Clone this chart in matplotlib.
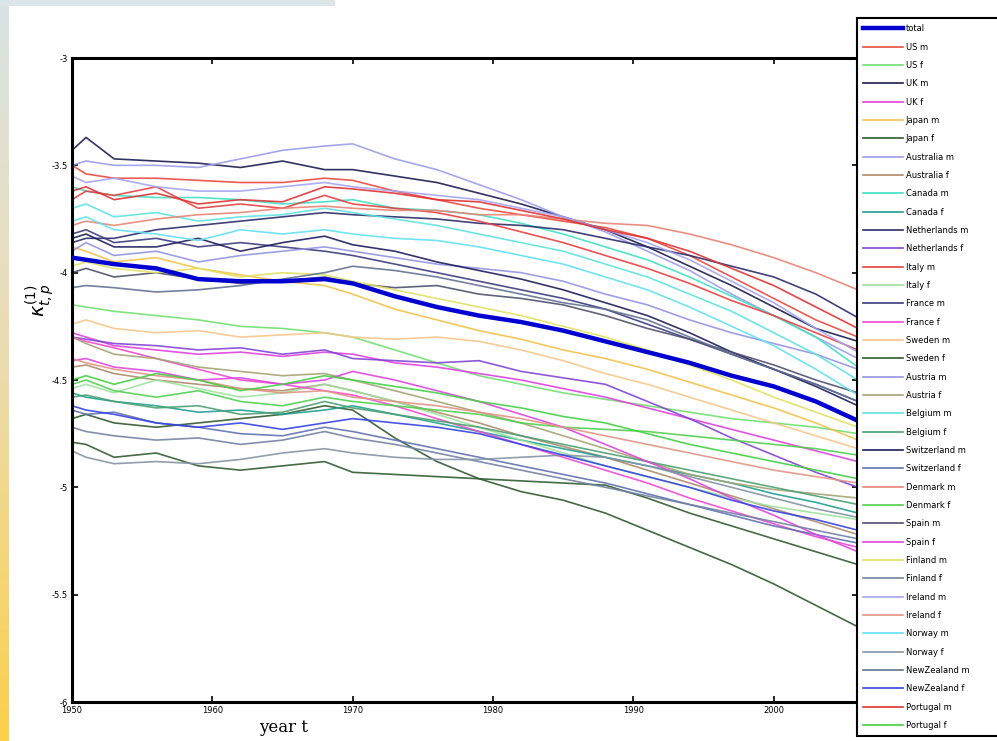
import matplotlib
matplotlib.use("Agg")
import matplotlib.pyplot as plt
import numpy as np
from matplotlib.lines import Line2D
from matplotlib.colors import LinearSegmentedColormap

YEARS = [1950, 1951, 1953, 1956, 1959, 1962, 1965, 1968, 1970, 1973, 1976,
         1979, 1982, 1985, 1988, 1991, 1994, 1997, 2000, 2003, 2006]

total = [-3.93, -3.94, -3.96, -3.98, -4.03, -4.04, -4.04, -4.03, -4.05, -4.11, -4.16,
         -4.20, -4.23, -4.27, -4.32, -4.37, -4.42, -4.48, -4.53, -4.60, -4.69]
us_m = [-3.50, -3.54, -3.56, -3.56, -3.57, -3.58, -3.58, -3.56, -3.57, -3.62, -3.66,
        -3.70, -3.73, -3.76, -3.79, -3.84, -3.92, -4.02, -4.12, -4.22, -4.30]
us_f = [-4.15, -4.16, -4.18, -4.20, -4.22, -4.25, -4.26, -4.28, -4.30, -4.36, -4.42,
        -4.48, -4.52, -4.56, -4.59, -4.62, -4.65, -4.68, -4.70, -4.72, -4.75]
uk_m = [-3.43, -3.37, -3.47, -3.48, -3.49, -3.51, -3.48, -3.52, -3.52, -3.55, -3.58,
        -3.63, -3.68, -3.74, -3.80, -3.88, -3.97, -4.06, -4.16, -4.26, -4.32]
uk_f = [-4.28, -4.30, -4.34, -4.36, -4.38, -4.37, -4.39, -4.37, -4.38, -4.42, -4.44,
        -4.47, -4.50, -4.54, -4.58, -4.63, -4.68, -4.73, -4.78, -4.83, -4.88]
japan_m = [-3.88, -3.90, -3.95, -3.93, -3.98, -4.01, -4.04, -4.06, -4.10, -4.17, -4.22,
           -4.27, -4.31, -4.36, -4.40, -4.45, -4.51, -4.57, -4.63, -4.70, -4.78]
japan_f = [-4.68, -4.66, -4.70, -4.72, -4.70, -4.68, -4.66, -4.62, -4.64, -4.77, -4.88,
           -4.96, -5.02, -5.06, -5.12, -5.20, -5.28, -5.36, -5.45, -5.55, -5.65]
australia_m = [-3.50, -3.48, -3.50, -3.50, -3.51, -3.47, -3.43, -3.41, -3.40, -3.47, -3.52,
               -3.59, -3.66, -3.74, -3.81, -3.90, -3.99, -4.10, -4.20, -4.30, -4.40]
australia_f = [-4.44, -4.43, -4.47, -4.50, -4.52, -4.54, -4.55, -4.52, -4.55, -4.60, -4.65,
               -4.70, -4.76, -4.81, -4.86, -4.92, -4.98, -5.04, -5.10, -5.16, -5.22]
canada_m = [-3.60, -3.62, -3.64, -3.65, -3.65, -3.66, -3.68, -3.67, -3.66, -3.70, -3.71,
            -3.73, -3.77, -3.82, -3.88, -3.94, -4.02, -4.11, -4.20, -4.30, -4.44]
canada_f = [-4.56, -4.58, -4.60, -4.62, -4.65, -4.64, -4.66, -4.64, -4.62, -4.66, -4.70,
            -4.74, -4.78, -4.82, -4.86, -4.90, -4.94, -4.98, -5.03, -5.07, -5.12]
netherlands_m = [-3.86, -3.84, -3.84, -3.80, -3.78, -3.76, -3.74, -3.72, -3.73, -3.74, -3.75,
                 -3.77, -3.78, -3.80, -3.84, -3.88, -3.92, -3.97, -4.02, -4.10, -4.21]
netherlands_f = [-4.30, -4.31, -4.33, -4.34, -4.36, -4.35, -4.38, -4.36, -4.40, -4.41, -4.42,
                 -4.41, -4.46, -4.49, -4.52, -4.60, -4.68, -4.77, -4.85, -4.93, -5.00]
italy_m = [-3.66, -3.62, -3.64, -3.60, -3.70, -3.68, -3.70, -3.64, -3.68, -3.70, -3.72,
           -3.76, -3.81, -3.86, -3.92, -3.98, -4.05, -4.13, -4.20, -4.28, -4.36]
italy_f = [-4.54, -4.52, -4.56, -4.50, -4.54, -4.58, -4.56, -4.52, -4.55, -4.60, -4.66,
           -4.72, -4.78, -4.84, -4.90, -4.95, -5.00, -5.05, -5.09, -5.12, -5.15]
france_m = [-3.82, -3.80, -3.86, -3.84, -3.88, -3.86, -3.88, -3.90, -3.92, -3.96, -4.00,
            -4.04, -4.08, -4.12, -4.17, -4.24, -4.31, -4.38, -4.45, -4.52, -4.60]
france_f = [-4.30, -4.32, -4.35, -4.40, -4.45, -4.50, -4.52, -4.55, -4.57, -4.62, -4.68,
            -4.74, -4.80, -4.86, -4.92, -4.98, -5.05, -5.11, -5.17, -5.23, -5.28]
sweden_m = [-4.24, -4.22, -4.26, -4.28, -4.27, -4.30, -4.29, -4.28, -4.30, -4.31, -4.30,
            -4.32, -4.36, -4.41, -4.47, -4.52, -4.58, -4.64, -4.70, -4.76, -4.82]
sweden_f = [-4.79, -4.80, -4.86, -4.84, -4.90, -4.92, -4.90, -4.88, -4.93, -4.94, -4.95,
            -4.96, -4.97, -4.98, -4.99, -5.05, -5.12, -5.18, -5.24, -5.30, -5.36]
austria_m = [-3.90, -3.86, -3.92, -3.90, -3.95, -3.92, -3.90, -3.88, -3.90, -3.93, -3.96,
             -3.98, -4.00, -4.04, -4.10, -4.15, -4.22, -4.28, -4.33, -4.38, -4.45]
austria_f = [-4.30, -4.33, -4.38, -4.40, -4.44, -4.46, -4.48, -4.47, -4.50, -4.55, -4.60,
             -4.65, -4.70, -4.76, -4.82, -4.88, -4.94, -4.98, -5.01, -5.03, -5.05]
belgium_m = [-3.70, -3.68, -3.74, -3.72, -3.76, -3.74, -3.73, -3.70, -3.72, -3.75, -3.78,
             -3.82, -3.86, -3.90, -3.96, -4.02, -4.10, -4.18, -4.28, -4.38, -4.50]
belgium_f = [-4.58, -4.57, -4.60, -4.63, -4.62, -4.66, -4.65, -4.60, -4.63, -4.66, -4.69,
             -4.72, -4.76, -4.80, -4.84, -4.88, -4.92, -4.96, -5.00, -5.04, -5.08]
switzerland_m = [-3.84, -3.82, -3.88, -3.88, -3.84, -3.90, -3.86, -3.83, -3.87, -3.90, -3.95,
                 -3.99, -4.03, -4.08, -4.14, -4.20, -4.28, -4.37, -4.45, -4.53, -4.62]
switzerland_f = [-4.64, -4.66, -4.65, -4.70, -4.72, -4.75, -4.76, -4.72, -4.74, -4.78, -4.82,
                 -4.86, -4.90, -4.94, -4.98, -5.03, -5.08, -5.13, -5.18, -5.22, -5.26]
denmark_m = [-3.78, -3.76, -3.78, -3.75, -3.73, -3.72, -3.70, -3.69, -3.70, -3.71, -3.71,
             -3.73, -3.73, -3.75, -3.77, -3.78, -3.82, -3.87, -3.93, -4.00, -4.08]
denmark_f = [-4.52, -4.50, -4.55, -4.58, -4.55, -4.60, -4.62, -4.58, -4.60, -4.62, -4.64,
             -4.66, -4.70, -4.72, -4.73, -4.74, -4.76, -4.78, -4.80, -4.82, -4.85]
spain_m = [-4.00, -3.98, -4.02, -4.00, -4.03, -4.05, -4.04, -4.02, -4.05, -4.07, -4.06,
           -4.10, -4.12, -4.15, -4.20, -4.26, -4.31, -4.37, -4.43, -4.50, -4.56]
spain_f = [-4.41, -4.40, -4.44, -4.46, -4.50, -4.49, -4.52, -4.50, -4.46, -4.50, -4.55,
           -4.60, -4.66, -4.72, -4.80, -4.88, -4.96, -5.05, -5.13, -5.22, -5.30]
finland_m = [-3.97, -3.95, -3.98, -4.00, -3.98, -4.02, -4.00, -4.01, -4.04, -4.08, -4.12,
             -4.16, -4.20, -4.25, -4.30, -4.36, -4.43, -4.50, -4.58, -4.65, -4.72]
finland_f = [-4.72, -4.74, -4.76, -4.78, -4.77, -4.80, -4.78, -4.74, -4.77, -4.80, -4.84,
             -4.88, -4.92, -4.96, -5.00, -5.04, -5.08, -5.12, -5.16, -5.20, -5.24]
ireland_m = [-3.55, -3.58, -3.56, -3.60, -3.62, -3.62, -3.60, -3.58, -3.60, -3.62, -3.64,
             -3.66, -3.70, -3.74, -3.80, -3.86, -3.94, -4.04, -4.14, -4.26, -4.37]
ireland_f = [-4.40, -4.42, -4.45, -4.48, -4.50, -4.54, -4.56, -4.55, -4.58, -4.60, -4.62,
             -4.65, -4.68, -4.72, -4.76, -4.80, -4.84, -4.88, -4.92, -4.95, -4.98]
norway_m = [-3.76, -3.74, -3.80, -3.82, -3.85, -3.80, -3.82, -3.80, -3.82, -3.84, -3.85,
            -3.88, -3.92, -3.96, -4.02, -4.08, -4.16, -4.25, -4.34, -4.45, -4.57]
norway_f = [-4.83, -4.86, -4.89, -4.88, -4.89, -4.87, -4.84, -4.82, -4.84, -4.86, -4.87,
            -4.87, -4.86, -4.85, -4.86, -4.90, -4.95, -5.00, -5.05, -5.10, -5.14]
newzealand_m = [-4.07, -4.06, -4.07, -4.09, -4.08, -4.06, -4.03, -4.00, -3.97, -3.99, -4.02,
                -4.06, -4.10, -4.14, -4.17, -4.22, -4.30, -4.38, -4.45, -4.52, -4.60]
newzealand_f = [-4.62, -4.64, -4.66, -4.70, -4.72, -4.70, -4.73, -4.70, -4.68, -4.70, -4.72,
                -4.75, -4.80, -4.85, -4.90, -4.95, -5.00, -5.06, -5.11, -5.15, -5.20]
portugal_m = [-3.62, -3.60, -3.66, -3.63, -3.68, -3.66, -3.67, -3.60, -3.61, -3.63, -3.66,
              -3.67, -3.71, -3.75, -3.80, -3.84, -3.90, -3.98, -4.06, -4.16, -4.26]
portugal_f = [-4.50, -4.48, -4.52, -4.47, -4.50, -4.55, -4.52, -4.48, -4.50, -4.53, -4.56,
              -4.60, -4.63, -4.67, -4.70, -4.75, -4.80, -4.84, -4.88, -4.92, -4.96]

LABELS = ["total", "US m", "US f", "UK m", "UK f", "Japan m", "Japan f",
          "Australia m", "Australia f", "Canada m", "Canada f",
          "Netherlands m", "Netherlands f", "Italy m", "Italy f",
          "France m", "France f", "Sweden m", "Sweden f", "Austria m", "Austria f",
          "Belgium m", "Belgium f", "Switzerland m", "Switzerland f",
          "Denmark m", "Denmark f", "Spain m", "Spain f", "Finland m", "Finland f",
          "Ireland m", "Ireland f", "Norway m", "Norway f",
          "NewZealand m", "NewZealand f", "Portugal m", "Portugal f"]
SERIES = [total, us_m, us_f, uk_m, uk_f, japan_m, japan_f, australia_m, australia_f,
          canada_m, canada_f, netherlands_m, netherlands_f, italy_m, italy_f,
          france_m, france_f, sweden_m, sweden_f, austria_m, austria_f,
          belgium_m, belgium_f, switzerland_m, switzerland_f, denmark_m, denmark_f,
          spain_m, spain_f, finland_m, finland_f, ireland_m, ireland_f,
          norway_m, norway_f, newzealand_m, newzealand_f, portugal_m, portugal_f]

COLORS = ["#0000d0", "#e84a40", "#70e070", "#1c1c50", "#e040e0", "#f2c24a", "#2e5a2e",
          "#9c9cea", "#b08a6a", "#40e0c4", "#20a090", "#2c2c6c", "#8244d4",
          "#e84040", "#9ee29e", "#3c3c80", "#f048d0", "#f8c68a", "#305c30",
          "#9494e4", "#a4a474", "#60e2e2", "#4ea072", "#1e1e5c", "#6272b2",
          "#e88474", "#50d050", "#50506e", "#e044e0", "#e2e060", "#7282a2",
          "#a4a4f2", "#e29484", "#62e0f2", "#8494a4", "#627292", "#3444e0",
          "#e03232", "#44d044"]

W, H = 997, 741
fig = plt.figure(figsize=(W / 100, H / 100), dpi=100)
fig.patch.set_facecolor("white")

# decorative frame: top band and left gradient strip
bg = fig.add_axes([0, 0, 1, 1], zorder=-10)
bg.axis("off")
grad = np.linspace(0, 1, 256).reshape(-1, 1)
cmap = LinearSegmentedColormap.from_list("frame", ["#d9e3e5", "#ecdcae", "#fcd04a"])
bg.imshow(grad, extent=[0, 8, H, 0], aspect="auto", cmap=cmap)
bg.add_patch(plt.Rectangle((0, 0), 335, 6, color="#dce6e8", lw=0))
bg.set_xlim(0, W)
bg.set_ylim(H, 0)

ax = fig.add_axes([72 / W, 39 / H, (858 - 72) / W, (702 - 58) / H])
for lab, vals, col in zip(LABELS, SERIES, COLORS):
    if lab == "total":
        continue
    ax.plot(YEARS, vals, color=col, lw=1.2, alpha=0.9)
ax.plot(YEARS, total, color=COLORS[0], lw=3.2, zorder=5)

ax.set_xlim(1950, 2006)
ax.set_ylim(-6, -3)
ax.set_yticks([-6, -5.5, -5, -4.5, -4, -3.5, -3])
ax.set_yticklabels(["-6", "-5.5", "-5", "-4.5", "-4", "-3.5", "-3"])
ax.set_xticks([1950, 1960, 1970, 1980, 1990, 2000])
ax.tick_params(direction="in", length=4, width=1.2, labelsize=6, top=True, right=True, pad=3)
for s in ax.spines.values():
    s.set_linewidth(2.2)
    s.set_color("black")

fig.text(284 / W, 1 - 728 / H, "year t", family="DejaVu Serif", fontsize=12,
         ha="center", va="center")
fig.text(40 / W, 1 - 300 / H, r"$\kappa_{t,p}^{(1)}$", fontsize=14, rotation=90,
         ha="center", va="center")

leg_handles = [Line2D([], [], color=c, lw=(3.2 if l == "total" else 1.2))
               for l, c in zip(LABELS, COLORS)]
leg = fig.legend(leg_handles, LABELS, loc="upper left",
                 bbox_to_anchor=(857 / W, 0.0, 0.2, 1 - 18 / H), mode="expand",
                 fontsize=6, labelspacing=1.12, handlelength=4.8, handletextpad=0.3,
                 borderpad=0.75, borderaxespad=0.0, fancybox=False, framealpha=1,
                 edgecolor="black")
leg.get_frame().set_linewidth(1.5)

fig.savefig("out.png", dpi=100)
